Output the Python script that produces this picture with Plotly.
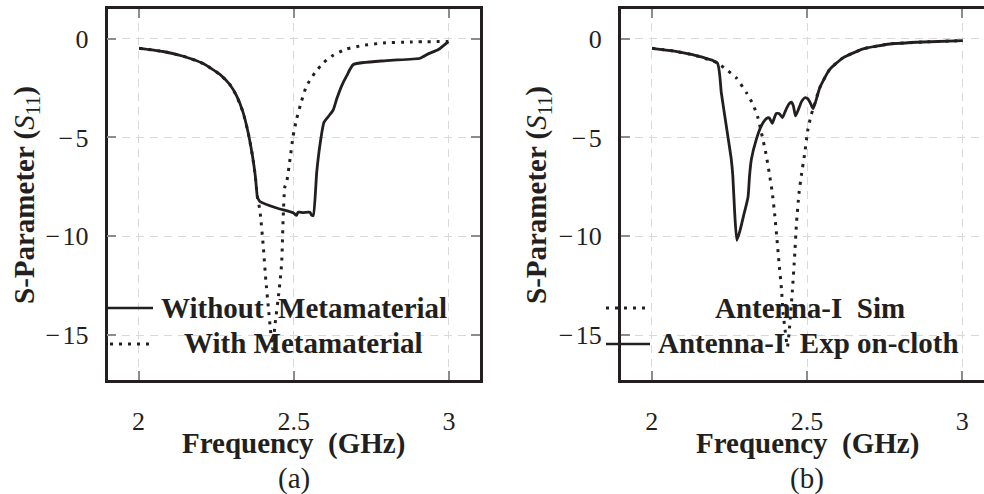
import plotly.graph_objects as go

# ---------------- data ----------------
# Panel (a)
a_without_x = [2.002, 2.079, 2.144, 2.208, 2.262, 2.294, 2.316, 2.337, 2.353, 2.367, 2.376, 2.380, 2.383,
               2.391, 2.445, 2.498, 2.509, 2.514, 2.530, 2.552, 2.558, 2.563, 2.574, 2.584, 2.597, 2.611,
               2.627, 2.638, 2.654, 2.670, 2.692, 2.799, 2.907, 2.933, 2.966, 2.998]
a_without_y = [-0.49, -0.65, -0.89, -1.26, -1.81, -2.32, -2.90, -3.74, -4.75, -5.92, -6.93, -7.60, -8.02,
               -8.24, -8.57, -8.81, -8.94, -8.78, -8.80, -8.78, -8.94, -8.94, -6.76, -5.42, -4.25, -3.95,
               -3.61, -3.07, -2.40, -1.90, -1.31, -1.11, -0.99, -0.77, -0.55, -0.15]

a_with_x = [2.002, 2.079, 2.144, 2.208, 2.262, 2.294, 2.316, 2.337, 2.353, 2.367, 2.376, 2.380, 2.383,
            2.391, 2.402, 2.410, 2.418, 2.425, 2.432, 2.439, 2.453, 2.461, 2.466, 2.471, 2.477, 2.488,
            2.498, 2.509, 2.525, 2.541, 2.568, 2.595, 2.622, 2.670, 2.724, 2.788, 2.874, 2.998]
a_with_y = [-0.49, -0.65, -0.89, -1.26, -1.81, -2.32, -2.90, -3.74, -4.75, -5.92, -6.93, -7.60, -8.02,
            -8.69, -10.54, -12.21, -13.56, -14.73, -15.70, -14.56, -12.72, -11.37, -9.03, -7.52, -7.27, -6.09,
            -4.92, -4.08, -3.16, -2.40, -1.73, -1.23, -0.89, -0.52, -0.34, -0.22, -0.17, -0.14]

# Panel (b)
b_exp_x = [2.001, 2.068, 2.143, 2.211, 2.224, 2.240, 2.256, 2.261, 2.267, 2.274, 2.283, 2.296, 2.310,
           2.315, 2.321, 2.337, 2.353, 2.369, 2.378, 2.388, 2.395, 2.401, 2.411, 2.421, 2.432, 2.442,
           2.450, 2.456, 2.463, 2.472, 2.482, 2.493, 2.503, 2.512, 2.520, 2.541, 2.573, 2.616, 2.681,
           2.767, 2.874, 3.002]
b_exp_y = [-0.49, -0.62, -0.86, -1.23, -2.74, -4.41, -6.09, -6.93, -8.78, -10.20, -9.78, -8.94, -8.02,
           -6.93, -6.09, -5.08, -4.41, -4.05, -4.00, -4.28, -4.00, -3.78, -3.80, -3.99, -3.60, -3.30,
           -3.21, -3.40, -3.91, -3.60, -3.20, -2.99, -3.05, -3.30, -3.54, -2.49, -1.56, -0.97, -0.52,
           -0.27, -0.17, -0.10]

b_sim_x = [2.001, 2.068, 2.143, 2.211, 2.240, 2.272, 2.305, 2.326, 2.342, 2.353, 2.367, 2.378, 2.388,
           2.396, 2.403, 2.410, 2.418, 2.423, 2.428, 2.437, 2.444, 2.453, 2.460, 2.466, 2.474, 2.482,
           2.493, 2.503, 2.514, 2.520, 2.541, 2.573, 2.616, 2.681, 2.767, 2.874, 3.002]
b_sim_y = [-0.49, -0.62, -0.86, -1.23, -1.56, -1.98, -2.74, -3.32, -4.00, -4.75, -5.76, -6.76, -7.77,
           -8.90, -10.10, -11.37, -12.72, -13.89, -14.56, -15.60, -14.56, -12.72, -11.04, -9.36, -7.85, -6.90,
           -5.76, -4.58, -3.83, -3.54, -2.49, -1.56, -0.97, -0.52, -0.27, -0.17, -0.10]

x_ticks = [2, 2.5, 3]
x_ticktext = ["2", "2.5", "3"]
y_ticks = [-15, -10, -5, 0]
y_ticktext = ["\u2212\u200a15", "\u2212\u200a10", "\u2212\u200a5", "0"]

legend_a = ["Without  Metamaterial", "With Metamaterial"]
legend_b = ["Antenna-I  Sim", "Antenna-I  Exp on-cloth"]
panel_labels = ["(a)", "(b)"]

# ---------------- styling ----------------
W, H = 984, 494
INK = "#231f20"
FONT = "Liberation Serif"


def px(x):
    return x / W


def py(y):
    return 1 - y / H


dom_y = [py(380), py(9)]
dom_xa = [px(107.5), px(480)]
dom_xb = [px(620.7), 1.0]

fig = go.Figure()

solid = dict(color=INK, width=2.8, shape="spline", smoothing=0.5)
dotted = dict(color=INK, width=3, dash="3px,6px", shape="spline", smoothing=0.5)

fig.add_trace(go.Scatter(x=a_with_x, y=a_with_y, mode="lines", line=dotted,
                         xaxis="x", yaxis="y", showlegend=False, name=legend_a[1]))
fig.add_trace(go.Scatter(x=a_without_x, y=a_without_y, mode="lines", line=solid,
                         xaxis="x", yaxis="y", showlegend=False, name=legend_a[0]))
fig.add_trace(go.Scatter(x=b_sim_x, y=b_sim_y, mode="lines", line=dotted,
                         xaxis="x2", yaxis="y2", showlegend=False, name=legend_b[0]))
fig.add_trace(go.Scatter(x=b_exp_x, y=b_exp_y, mode="lines", line=solid,
                         xaxis="x2", yaxis="y2", showlegend=False, name=legend_b[1]))

tickfont = dict(family=FONT, size=26, color=INK)
common_x = dict(tickvals=x_ticks, ticktext=x_ticktext, showgrid=True, gridcolor="#d9d9d9",
                gridwidth=1.3, griddash="8px,6px", zeroline=False, showline=True,
                linecolor=INK, linewidth=2.7, ticks="inside", ticklen=9, tickwidth=2,
                tickcolor="#8c8c8c", tickfont=tickfont, ticklabelstandoff=16)
common_y = dict(tickvals=y_ticks, ticktext=y_ticktext, showgrid=True, gridcolor="#d9d9d9", gridwidth=1.3,
                griddash="8px,6px", zeroline=False, showline=True, linecolor=INK, linewidth=2.7,
                ticks="inside", ticklen=9, tickwidth=2, tickcolor="#8c8c8c", tickfont=tickfont,
                range=[-17.27, 1.5], domain=dom_y, ticklabelstandoff=11)

fig.update_layout(
    width=W, height=H, margin=dict(l=0, r=0, t=0, b=0),
    paper_bgcolor="white", plot_bgcolor="white", showlegend=False,
    xaxis=dict(common_x, domain=dom_xa, range=[1.9, 3.1], anchor="y", mirror="ticks"),
    yaxis=dict(common_y, anchor="x", mirror="ticks"),
    xaxis2=dict(common_x, domain=dom_xb, range=[1.9, 3.07], anchor="y2", mirror="ticks"),
    yaxis2=dict(common_y, anchor="x2", mirror=False),
)

ann = []
title_font = dict(family=FONT, size=29, color=INK)
ytitle = "<b>S-Parameter (</b><i>S</i><sub>11</sub><b>)</b>"
for cx, ycx, lab in [((107.5 + 480) / 2, 26, panel_labels[0]), ((620.7 + 993.3) / 2, 538, panel_labels[1])]:
    ann.append(dict(text="<b>Frequency  (GHz)</b>", x=px(cx), y=py(443), xref="paper", yref="paper",
                    showarrow=False, font=title_font, xanchor="center", yanchor="middle"))
    ann.append(dict(text=lab, x=px(cx), y=py(478), xref="paper", yref="paper",
                    showarrow=False, font=dict(family=FONT, size=29, color=INK),
                    xanchor="center", yanchor="middle"))
    ann.append(dict(text=ytitle, x=px(ycx), y=py(195), xref="paper", yref="paper", textangle=-90,
                    showarrow=False, font=title_font, xanchor="center", yanchor="middle"))

leg_font = dict(family=FONT, size=29, color=INK)
ann.append(dict(text="<b>" + legend_a[0] + "</b>", x=px(303.5), y=py(308), xref="paper", yref="paper",
                showarrow=False, font=leg_font, xanchor="center", yanchor="middle"))
ann.append(dict(text="<b>" + legend_a[1] + "</b>", x=px(303), y=py(343), xref="paper", yref="paper",
                showarrow=False, font=leg_font, xanchor="center", yanchor="middle"))
ann.append(dict(text="<b>" + legend_b[0] + "</b>", x=px(810), y=py(308), xref="paper", yref="paper",
                showarrow=False, font=leg_font, xanchor="center", yanchor="middle"))
ann.append(dict(text="<b>" + legend_b[1] + "</b>", x=px(808.5), y=py(343), xref="paper", yref="paper",
                showarrow=False, font=leg_font, xanchor="center", yanchor="middle"))

shapes = [
    dict(type="line", xref="paper", yref="paper", x0=px(107.5), x1=px(153), y0=py(308), y1=py(308),
         line=dict(color=INK, width=2.7)),
    dict(type="line", xref="paper", yref="paper", x0=px(110), x1=px(151), y0=py(344), y1=py(344),
         line=dict(color=INK, width=3, dash="3px,6px")),
    dict(type="line", xref="paper", yref="paper", x0=px(606), x1=px(648), y0=py(308), y1=py(308),
         line=dict(color=INK, width=3, dash="3px,6px")),
    dict(type="line", xref="paper", yref="paper", x0=px(606), x1=px(650), y0=py(344), y1=py(344),
         line=dict(color=INK, width=2.7)),
]

fig.update_layout(annotations=ann, shapes=shapes)
fig.write_html("out.html")
